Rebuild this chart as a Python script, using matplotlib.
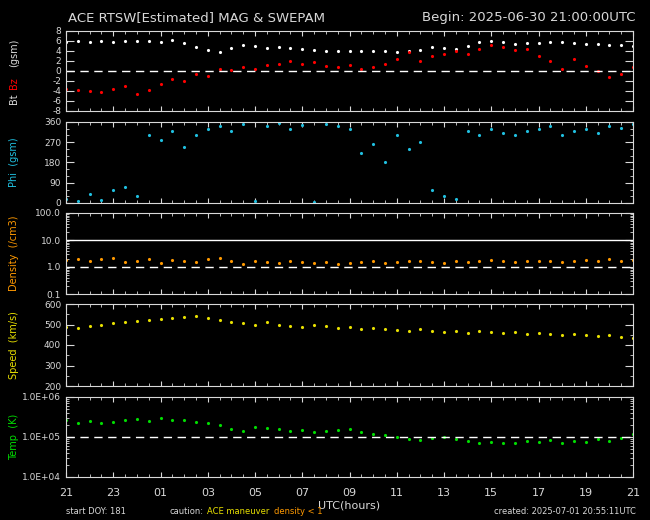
import numpy as np
import matplotlib
matplotlib.use("Agg")
import matplotlib.pyplot as plt
from matplotlib.ticker import FixedLocator, NullFormatter, AutoMinorLocator

hours = np.arange(0, 24.01, 0.5)
bt = [5.8,6.0,5.9,6.1,5.8,6.0,6.1,6.0,5.9,6.2,5.6,4.8,4.3,3.8,4.6,5.2,5.0,4.7,4.8,4.6,4.4,4.2,4.0,4.1,4.0,4.0,4.1,4.0,3.9,4.0,4.2,4.8,4.6,4.5,5.0,5.8,6.0,5.8,5.5,5.6,5.7,5.8,5.8,5.6,5.5,5.4,5.3,5.2,5.0]
bz = [-3.5,-3.8,-4.0,-4.2,-3.6,-3.0,-4.5,-3.8,-2.5,-1.5,-2.0,-0.5,-1.0,0.5,0.2,0.8,0.5,1.2,1.5,2.0,1.5,1.8,1.0,0.8,1.2,0.5,0.8,1.5,2.5,3.8,2.0,3.0,3.5,4.0,3.5,4.5,5.2,4.8,4.2,4.5,3.0,2.0,0.5,2.5,1.0,0.0,-1.2,-0.5,0.8]
phi = [20,10,40,15,60,70,30,300,280,320,250,300,330,340,320,350,10,340,355,330,345,5,350,340,330,220,260,180,300,240,270,60,30,20,320,300,330,310,300,320,330,340,300,320,330,310,340,335,350]
dens = [1.8,2.0,1.6,1.9,2.2,1.5,1.7,2.0,1.4,1.8,1.6,1.5,1.9,2.1,1.7,1.3,1.6,1.5,1.4,1.6,1.5,1.4,1.5,1.3,1.4,1.5,1.6,1.4,1.5,1.7,1.6,1.5,1.4,1.6,1.5,1.7,1.8,1.6,1.5,1.6,1.7,1.6,1.5,1.6,1.8,1.7,1.9,1.7,1.8]
speed = [490,485,495,500,505,510,515,520,525,530,535,540,530,520,510,505,500,510,500,495,490,500,495,485,490,480,485,480,475,470,480,470,465,470,460,470,465,460,465,455,460,455,450,455,450,445,450,440,435]
temp = [2.6e5,2.2e5,2.5e5,2.3e5,2.4e5,2.6e5,2.8e5,2.5e5,3.0e5,2.7e5,2.6e5,2.4e5,2.2e5,2.0e5,1.6e5,1.4e5,1.8e5,1.7e5,1.6e5,1.4e5,1.5e5,1.3e5,1.4e5,1.5e5,1.6e5,1.3e5,1.2e5,1.1e5,1.0e5,9.0e4,8.5e4,9.5e4,1.0e5,9.0e4,8.0e4,7.0e4,7.5e4,7.0e4,7.2e4,8.0e4,7.5e4,8.5e4,7.0e4,8.0e4,7.5e4,9.0e4,8.0e4,9.5e4,1.2e5]
tick_pos = list(range(0, 25, 2))
tick_labels = ["21","23","01","03","05","07","09","11","13","15","17","19","21"]

W, H = 650, 520
fig = plt.figure(figsize=(6.5, 5.2), dpi=100, facecolor="black")
fg = "#d8d8d8"
left, right = 66/W, 633/W
panels = [(31,111),(122,203),(213,294),(304,386),(397,477)]
axes = []
for t, b in panels:
    ax = fig.add_axes([left, 1-b/H, right-left, (b-t)/H], facecolor="black")
    ax.set_xlim(0, 24)
    for s in ax.spines.values():
        s.set_color(fg)
    ax.tick_params(colors=fg, labelsize=6.5, direction="in", which="both", top=True, right=True)
    ax.xaxis.set_major_locator(FixedLocator(tick_pos))
    ax.xaxis.set_minor_locator(FixedLocator(np.arange(0, 24.1, 0.5)))
    ax.tick_params(axis="x", which="minor", length=2)
    ax.tick_params(axis="y", which="major", length=6)
    ax.xaxis.set_major_formatter(NullFormatter())
    axes.append(ax)

ms = 2.5
a = axes[0]
a.plot(hours, bt, ".", color="white", ms=ms)
a.plot(hours, bz, ".", color="red", ms=ms)
a.set_ylim(-8, 8); a.set_yticks(range(-8, 9, 2))
a.set_yticklabels([str(v) for v in range(-8, 9, 2)])
a.axhline(0, color="white", ls=(0, (6, 4)), lw=1)

a = axes[1]
a.plot(hours, phi, ".", color="#20c0e0", ms=ms)
a.set_ylim(0, 360); a.set_yticks([0,90,180,270,360])
a.yaxis.set_minor_locator(AutoMinorLocator(3))

a = axes[2]
a.plot(hours, dens, ".", color="#ff9900", ms=ms)
a.set_yscale("log"); a.set_ylim(0.1, 100)
a.set_yticks([0.1,1,10,100]); a.set_yticklabels(["0.1","1.0","10.0","100.0"])
a.axhline(1, color="white", ls=(0, (6, 4)), lw=1)
a.axhline(10, color="white", lw=1)

a = axes[3]
a.plot(hours, speed, ".", color="#e8e000", ms=ms)
a.set_ylim(200, 600); a.set_yticks(range(200, 601, 100))
a.yaxis.set_minor_locator(AutoMinorLocator(2))

a = axes[4]
a.plot(hours, temp, ".", color="#00dd00", ms=ms)
a.set_yscale("log"); a.set_ylim(1e4, 1e6)
a.set_yticks([1e4,1e5,1e6]); a.set_yticklabels(["1.0E+04","1.0E+05","1.0E+06"])
a.axhline(1e5, color="white", ls=(0, (6, 4)), lw=1)
a.xaxis.set_major_formatter(matplotlib.ticker.FixedFormatter(tick_labels))
a.tick_params(axis="x", labelsize=8, pad=8)
a.set_xlabel("UTC(hours)", color=fg, fontsize=8, labelpad=2)

ylab = [("Phi  (gsm)", "#20c0e0", 1), ("Density  (/cm3)", "#ff9900", 2),
        ("Speed  (km/s)", "#e8e000", 3), ("Temp  (K)", "#00dd00", 4)]
for txt, c, i in ylab:
    t, b = panels[i]
    fig.text(14/W, 1-(t+b)/2/H, txt, rotation=90, color=c, fontsize=7, ha="center", va="center")
t, b = panels[0]
fig.text(14/W, 1-(b-12)/H, "Bt", rotation=90, color=fg, fontsize=7, ha="center", va="center")
fig.text(14/W, 1-(b-28)/H, "Bz", rotation=90, color="red", fontsize=7, ha="center", va="center")
fig.text(14/W, 1-(t+22)/H, "(gsm)", rotation=90, color=fg, fontsize=7, ha="center", va="center")

fig.text(68/W, 1-18/H, "ACE RTSW[Estimated] MAG & SWEPAM", color=fg, fontsize=9.5, va="center")
fig.text(636/W, 1-18/H, "Begin: 2025-06-30 21:00:00UTC", color=fg, fontsize=9.5, va="center", ha="right")
fig.text(66/W, 1-512/H, "start DOY: 181", color=fg, fontsize=6, va="center")
fig.text(170/W, 1-512/H, "caution:", color=fg, fontsize=6, va="center")
fig.text(207/W, 1-512/H, "ACE maneuver", color="#e8e000", fontsize=6, va="center")
fig.text(274/W, 1-512/H, "density < 1", color="#ff9900", fontsize=6, va="center")
fig.text(636/W, 1-512/H, "created: 2025-07-01 20:55:11UTC", color=fg, fontsize=6, va="center", ha="right")

fig.savefig("out.png", dpi=100, facecolor="black")
